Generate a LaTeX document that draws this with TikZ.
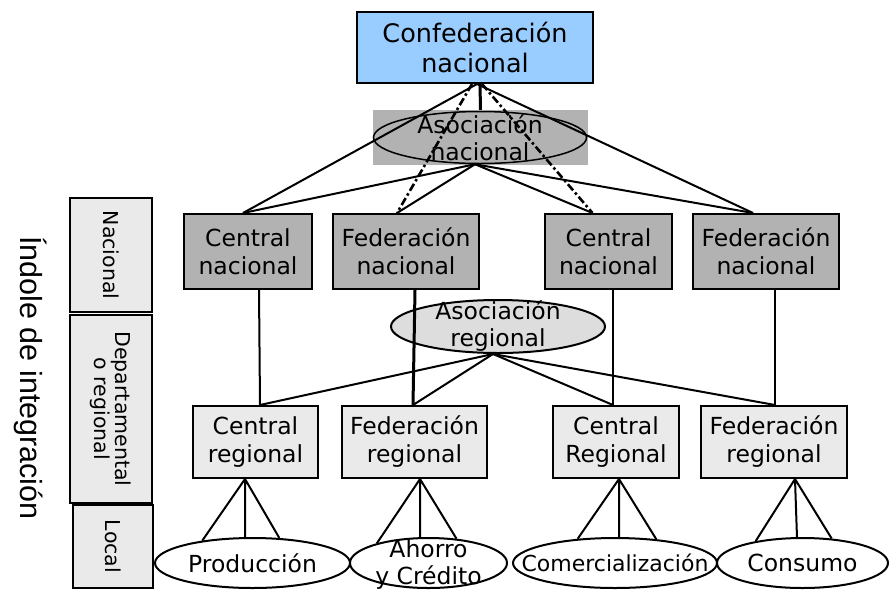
\documentclass[tikz,border=0pt]{standalone}
\usepackage{fontspec}
\setmainfont{DejaVu Sans}
\newfontfamily\arialfont{Liberation Sans}
\usetikzlibrary{calc,shapes.geometric}
\definecolor{confblue}{HTML}{99CCFF}
\definecolor{nacgray}{HTML}{B2B2B2}
\definecolor{reggray}{HTML}{EAEAEA}
\definecolor{asocgray}{HTML}{DDDDDD}
\def\fanout[#1](#2)(#3:#4:#5){\draw[#1] (#2) -- (#3) (#2) -- (#4) (#2) -- (#5);}
\tikzset{
	orgbox/.style={draw, line width=2pt, align=center, inner sep=0pt, font=\fontsize{23.5}{28}\selectfont},
	orgoval/.style={ellipse, draw, line width=2pt, inner sep=0pt},
	ovaltext/.style={align=center, inner sep=0pt, font=\fontsize{23.5}{27}\selectfont},
	levelbox/.style={draw, line width=2pt, fill=reggray, rotate=-90, align=center, inner sep=0pt, font=\fontsize{20.5}{19}\selectfont},
	link/.style={line width=2pt},
	dashlink/.style={line width=2.6pt, dash pattern=on 8pt off 3pt on 2.5pt off 3pt}
}

\begin{document}
\begin{tikzpicture}[x=1pt, y=-1pt]
		%%%%% START %%%%%
		\useasboundingbox (0, 0) rectangle (889, 590);
		
		\node[rotate=-90, font=\arialfont\fontsize{30.5}{36}\selectfont] (indole) at (31, 378) {Índole de integración};
		\node[levelbox, minimum width=114pt, minimum height=82pt] (nacL) at (111, 255) {Nacional};
		\node[levelbox, minimum width=188pt, minimum height=82pt] (depL) at (111, 409) {Departamental\\o regional};
		\node[levelbox, minimum width=83pt, minimum height=80pt] (locL) at (113, 546.5) {Local};
		
		\node[orgbox, fill=confblue, minimum width=236pt, minimum height=71pt, font=\fontsize{25.5}{30}\selectfont] (conf) at (475, 47.5) {Confederación\\nacional};
		
		\node[fill=nacgray, minimum width=215pt, minimum height=55pt] (anbg) at (480.5, 137.5) {};
		\node[orgoval, line width=1.5pt, fill=nacgray, minimum width=213pt, minimum height=52pt, label={[ovaltext]center:Asociación\\nacional}] (an) at (480, 137.5) {};
		
		\node[orgbox, fill=nacgray, minimum width=128pt, minimum height=75pt] (cn1) at (248, 251.5) {Central\\nacional};
		\node[orgbox, fill=nacgray, minimum width=146pt, minimum height=75pt] (fn1) at (406, 251.5) {Federación\\nacional};
		\node[orgbox, fill=nacgray, minimum width=127pt, minimum height=75pt] (cn2) at (608.5, 251.5) {Central\\nacional};
		\node[orgbox, fill=nacgray, minimum width=146pt, minimum height=75pt] (fn2) at (766, 251.5) {Federación\\nacional};
		
		\node[orgoval, fill=asocgray, minimum width=214pt, minimum height=53pt, label={[ovaltext]center:Asociación\\regional}] (ar) at (498, 326.5) {};
		
		\node[orgbox, fill=reggray, minimum width=125pt, minimum height=72pt] (cr1) at (255.5, 442) {Central\\regional};
		\node[orgbox, fill=reggray, minimum width=145pt, minimum height=72pt] (fr1) at (414.5, 442) {Federación\\regional};
		\node[orgbox, fill=reggray, minimum width=126pt, minimum height=72pt] (cr2) at (616, 442) {Central\\Regional};
		\node[orgbox, fill=reggray, minimum width=146pt, minimum height=72pt] (fr2) at (774, 442) {Federación\\regional};
		
		\node[orgoval, fill=white, minimum width=195pt, minimum height=50pt, label={[ovaltext]center:Producción}] (prod) at (252.5, 563) {};
		\node[orgoval, fill=white, minimum width=157pt, minimum height=50pt, label={[ovaltext, yshift=-2pt]center:Ahorro\\y Crédito}] (ahorro) at (428.5, 563) {};
		\node[orgoval, fill=white, minimum width=204pt, minimum height=50pt, label={[ovaltext, font=\fontsize{22}{26}\selectfont]center:Comercialización}] (comer) at (615, 563) {};
		\node[orgoval, fill=white, minimum width=171pt, minimum height=50pt, label={[ovaltext]center:Consumo}] (consumo) at (802.5, 563) {};
		
		% confederacion
		\draw[link] ([xshift=2pt]conf.south) -- ([xshift=-5pt]cn1.north);
		\draw[dashlink] ([xshift=-3pt]conf.south) -- ([xshift=-9pt]fn1.north);
		\draw[link, line width=3pt] ([xshift=5pt]conf.south) -- (anbg.north);
		\draw[dashlink] ([xshift=7pt]conf.south) -- ([xshift=-16pt]cn2.north);
		\draw[link] ([xshift=2pt]conf.south) -- ([xshift=-13pt]fn2.north);
		
		% asociacion nacional
		\draw[link] ([xshift=-5pt]an.south) -- ([xshift=-5pt]cn1.north);
		\draw[link] ([xshift=-5pt]an.south) -- ([xshift=-9pt]fn1.north);
		\draw[link] ([xshift=-5pt]an.south) -- ([xshift=-16pt]cn2.north);
		\draw[link] ([xshift=-5pt]an.south) -- ([xshift=-13pt]fn2.north);
		
		% nacional -- regional
		\draw[link] ([xshift=11pt]cn1.south) -- ([xshift=4.5pt]cr1.north);
		\draw[link, line width=3pt] ([xshift=9pt]fn1.south) -- ([xshift=-1.5pt]fr1.north);
		\draw[link] ([xshift=4.5pt]cn2.south) -- ([xshift=-3pt]cr2.north);
		\draw[link] ([xshift=9pt]fn2.south) -- ([xshift=1pt]fr2.north);
		
		% asociacion regional
		\draw[link] ([xshift=-5pt]ar.south) -- ([xshift=4.5pt]cr1.north);
		\draw[link] ([xshift=-5pt]ar.south) -- ([xshift=-1.5pt]fr1.north);
		\draw[link] ([xshift=-5pt]ar.south) -- ([xshift=-3pt]cr2.north);
		\draw[link] ([xshift=-5pt]ar.south) -- ([xshift=1pt]fr2.north);
		
		% local
		\fanout[link]([xshift=-10.5pt]cr1.south)(prod.156.5:prod.106.8:prod.43.4)
		\fanout[link]([xshift=5.5pt]fr1.south)(ahorro.159.3:ahorro.108.9:ahorro.41.6)
		\fanout[link]([xshift=3pt]cr2.south)(comer.147:comer.81:comer.30.6)
		\fanout[link]([xshift=21pt]fr2.south)(consumo.155:consumo.102.4:consumo.40.8)
		
		%%%%% END %%%%%
\end{tikzpicture}
\end{document}
